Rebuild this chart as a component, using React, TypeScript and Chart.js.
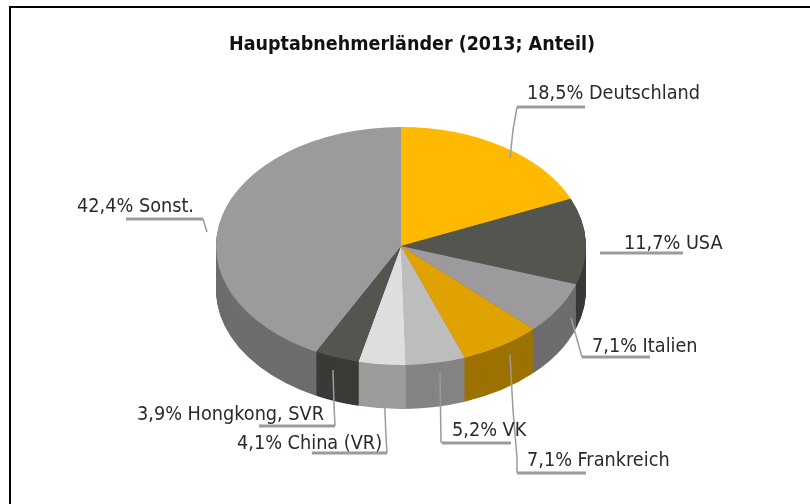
import React, { useEffect, useRef } from "react";
import { Chart, registerables } from "chart.js";

Chart.register(...registerables);

const countries = ["Deutschland", "USA", "Italien", "Frankreich", "VK", "China (VR)", "Hongkong, SVR", "Sonst."];
const shares = [18.5, 11.7, 7.1, 7.1, 5.2, 4.1, 3.9, 42.4];
const topColors = ["#FFB900", "#53554F", "#9C9A9C", "#DFA200", "#BDBDBD", "#DEDEDE", "#53554F", "#9C9A9C"];
const sideColors = ["#9C7200", "#393B37", "#6E6C6E", "#9C7200", "#848484", "#9C9C9C", "#393B37", "#6E6C6E"];
const titleText = "Hauptabnehmerländer (2013; Anteil)";

const Y_SCALE = 0.643;
const DEPTH = 44;
const FONT = '"DejaVu Sans Condensed", "DejaVu Sans", sans-serif';

// label text position (left x, centre y) and leader polyline for each slice
const labelPos: [number, number][] = [
  [527, 94], [624, 244], [592, 347], [527, 461], [452, 431], [237, 444], [137, 415], [77, 207],
];
const underlines: [number, number, number][] = [
  [517, 585, 107], [600, 683, 253], [582, 650, 357], [517, 586, 473], [442, 511, 443], [312, 387, 453], [259, 335, 426], [126, 203, 219],
];
const leaders: [number, number][][] = [
  [[517, 107], [513, 130], [510, 158]],
  [],
  [[582, 357], [571, 318]],
  [[517, 473], [517, 458], [513, 410], [510, 355]],
  [[441, 443], [440, 373]],
  [[387, 453], [386, 437], [385, 412], [383, 377]],
  [[335, 426], [334, 405], [333, 370]],
  [[203, 219], [207, 232]],
];

const pie3d = {
  id: "pie3d",
  afterLayout(chart: any) {
    // the printed title sits slightly right of the canvas centre
    const t = chart.titleBlock;
    if (t) { t.left += 11; t.right += 11; }
  },
  beforeDatasetsDraw(chart: any) {
    const ctx = chart.ctx;
    const arcs = chart.getDatasetMeta(0).data;
    const { x: cx, y: cy } = arcs[0];
    ctx.save();
    ctx.translate(cx, cy);
    ctx.scale(1, Y_SCALE);
    ctx.translate(-cx, -cy);
    for (let d = DEPTH; d >= 1; d--) {
      arcs.forEach((a: any, i: number) => {
        const off = d / Y_SCALE;
        ctx.beginPath();
        ctx.moveTo(a.x, a.y + off);
        ctx.arc(a.x, a.y + off, a.outerRadius, a.startAngle, a.endAngle);
        ctx.closePath();
        ctx.fillStyle = sideColors[i];
        ctx.fill();
      });
    }
  },
  afterDatasetsDraw(chart: any) {
    const ctx = chart.ctx;
    ctx.restore();
    ctx.save();
    ctx.strokeStyle = "#9C9A9C";
    ctx.lineCap = "butt";
    leaders.forEach((pts) => {
      if (!pts.length) return;
      ctx.beginPath();
      ctx.lineWidth = 1.5;
      pts.forEach(([x, y], i) => (i ? ctx.lineTo(x, y) : ctx.moveTo(x, y)));
      ctx.stroke();
    });
    underlines.forEach(([x0, x1, y]) => {
      ctx.beginPath();
      ctx.lineWidth = 3;
      ctx.moveTo(x0, y);
      ctx.lineTo(x1, y);
      ctx.stroke();
    });
    ctx.fillStyle = "#2a2a2a";
    ctx.font = `19.7px ${FONT}`;
    ctx.textAlign = "left";
    ctx.textBaseline = "middle";
    countries.forEach((name, i) => {
      const text = `${shares[i].toFixed(1).replace(".", ",")}% ${name}`;
      ctx.fillText(text, labelPos[i][0], labelPos[i][1]);
    });
    ctx.restore();
  },
};

export default function App() {
  const ref = useRef<HTMLCanvasElement>(null);
  useEffect(() => {
    document.body.style.margin = "0";
    const chart = new Chart(ref.current!, {
      type: "pie",
      data: {
        labels: countries,
        datasets: [{ data: shares, backgroundColor: topColors, borderWidth: 0 }],
      },
      options: {
        responsive: false,
        animation: false,
        rotation: 0,
        layout: { padding: { left: 216, right: 224, top: 0, bottom: 73 } },
        plugins: {
          legend: { display: false },
          tooltip: { enabled: false },
          title: {
            display: true,
            text: titleText,
            color: "#111",
            fullSize: true,
            font: { family: FONT, size: 19.5, weight: "bold" },
            padding: { top: 33, bottom: 4.6 },
          },
        },
      },
      plugins: [pie3d],
    } as any);
    return () => chart.destroy();
  }, []);
  return (
    <div style={{ position: "relative", width: 810, height: 504, background: "#fff", overflow: "hidden" }}>
      <canvas ref={ref} width={810} height={504} style={{ display: "block", filter: "blur(0.5px)" }} />
      <div style={{ position: "absolute", left: 9, top: 6, width: 801, height: 2, background: "#000" }} />
      <div style={{ position: "absolute", left: 9, top: 6, width: 2, height: 498, background: "#000" }} />
    </div>
  );
}
